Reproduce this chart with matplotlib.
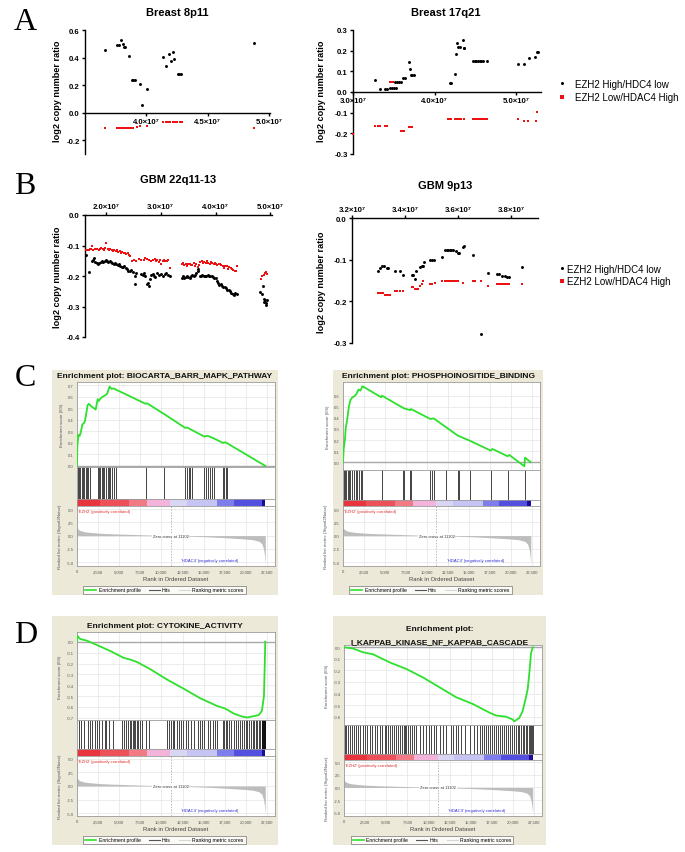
import matplotlib
matplotlib.use("Agg")
import matplotlib.pyplot as plt
from matplotlib.lines import Line2D
from matplotlib.patches import Rectangle
from matplotlib.ticker import FuncFormatter

plt.rcParams['font.family'] = ['Liberation Sans', 'DejaVu Sans']

# ---------------- data: copy-number panels (positions in bp) ----------------
br8_black_x = [3.666e7, 3.764e7, 3.780e7, 3.796e7, 3.807e7, 3.818e7, 3.829e7, 3.861e7, 3.880e7, 3.894e7,
               3.905e7, 3.948e7, 3.967e7, 4.005e7, 4.139e7, 4.158e7, 4.185e7, 4.204e7, 4.217e7, 4.228e7,
               4.258e7, 4.269e7, 4.283e7, 4.880e7]
br8_black_y = [0.455, 0.494, 0.494, 0.525, 0.501, 0.475, 0.475, 0.412, 0.235, 0.235,
               0.235, 0.208, 0.053, 0.174, 0.402, 0.341, 0.424, 0.373, 0.443, 0.387,
               0.278, 0.278, 0.278, 0.504]
br8_red_x = [3.666e7, 3.764e7, 3.780e7, 3.796e7, 3.813e7, 3.829e7, 3.845e7, 3.861e7, 3.878e7, 3.894e7,
             3.921e7, 3.948e7, 4.005e7, 4.139e7, 4.158e7, 4.177e7, 4.196e7, 4.215e7, 4.234e7, 4.253e7,
             4.272e7, 4.288e7, 4.880e7]
br8_red_y = [-0.109, -0.109, -0.109, -0.109, -0.109, -0.109, -0.109, -0.109, -0.109, -0.109,
             -0.104, -0.099, -0.099, -0.065, -0.065, -0.065, -0.065, -0.065, -0.065, -0.065,
             -0.065, -0.065, -0.109]

br17_black_x = [3.273e7, 3.327e7, 3.388e7, 3.416e7, 3.449e7, 3.473e7, 3.498e7, 3.522e7, 3.514e7, 3.539e7,
                3.563e7, 3.584e7, 3.612e7, 3.633e7, 3.686e7, 3.702e7, 3.710e7, 3.727e7, 3.743e7, 4.184e7,
                4.200e7, 4.249e7, 4.265e7, 4.278e7, 4.286e7, 4.306e7, 4.347e7, 4.355e7, 4.363e7, 4.469e7,
                4.490e7, 4.510e7, 4.531e7, 4.551e7, 4.571e7, 4.592e7, 4.637e7, 5.020e7, 5.094e7, 5.151e7,
                5.229e7, 5.249e7, 5.269e7]
br17_black_y = [0.058, 0.016, 0.016, 0.016, 0.019, 0.019, 0.019, 0.019, 0.048, 0.048,
                0.048, 0.048, 0.068, 0.068, 0.145, 0.113, 0.084, 0.084, 0.084, 0.042,
                0.042, 0.087, 0.185, 0.237, 0.218, 0.218, 0.252, 0.215, 0.215, 0.152,
                0.152, 0.152, 0.152, 0.152, 0.152, 0.152, 0.150, 0.137, 0.137, 0.166,
                0.169, 0.195, 0.195]
br17_red_x = [3.000e7, 3.273e7, 3.306e7, 3.327e7, 3.388e7, 3.416e7, 3.449e7, 3.469e7, 3.490e7, 3.584e7,
              3.604e7, 3.624e7, 3.686e7, 3.706e7, 3.727e7, 4.159e7, 4.184e7, 4.200e7, 4.249e7, 4.273e7,
              4.298e7, 4.322e7, 4.355e7, 4.469e7, 4.490e7, 4.510e7, 4.531e7, 4.551e7, 4.571e7, 4.592e7,
              4.616e7, 4.637e7, 5.020e7, 5.094e7, 5.143e7, 5.233e7, 5.257e7]
br17_red_y = [-0.202, -0.165, -0.165, -0.165, -0.165, -0.165, 0.048, 0.048, 0.048, -0.189,
              -0.189, -0.189, -0.168, -0.168, -0.168, -0.129, -0.129, -0.129, -0.129, -0.129,
              -0.129, -0.129, -0.129, -0.129, -0.129, -0.129, -0.129, -0.129, -0.129, -0.129,
              -0.129, -0.129, -0.129, -0.140, -0.140, -0.140, -0.095]

gbm22_red_x = [1.639, 1.663, 1.687, 1.711, 1.735, 1.747, 1.771, 1.795, 1.819, 1.843, 1.867, 1.892, 1.916,
               1.940, 1.964, 1.988, 2.012, 2.036, 2.060, 2.084, 2.108, 2.133, 2.157, 2.181, 2.205, 2.229,
               2.253, 2.277, 2.301, 2.325, 2.349, 2.373, 2.398, 2.422, 2.446, 2.482, 2.512, 2.554, 2.602,
               2.645, 2.687, 2.723, 2.759, 2.795, 2.831, 2.867, 2.892, 2.916, 2.940, 2.964, 2.988, 3.012,
               3.036, 3.060, 3.084, 3.108, 3.133, 3.169, 3.386, 3.410, 3.434, 3.458, 3.482, 3.506, 3.530,
               3.554, 3.578, 3.602, 3.627, 3.651, 3.675, 3.699, 3.723, 3.747, 3.771, 3.795, 3.819, 3.843,
               3.867, 3.892, 3.916, 3.940, 3.964, 3.988, 4.012, 4.036, 4.060, 4.084, 4.108, 4.133, 4.157,
               4.181, 4.205, 4.229, 4.253, 4.277, 4.301, 4.325, 4.349, 4.373, 4.386, 4.831, 4.855, 4.880,
               4.904, 4.928, 4.940]
gbm22_red_y = [-0.115, -0.116, -0.114, -0.113, -0.112, -0.101, -0.115, -0.112, -0.110, -0.113, -0.116, -0.112,
               -0.109, -0.112, -0.115, -0.107, -0.092, -0.112, -0.115, -0.113, -0.116, -0.118, -0.114, -0.117,
               -0.115, -0.121, -0.118, -0.123, -0.120, -0.125, -0.123, -0.128, -0.125, -0.130, -0.136, -0.150,
               -0.147, -0.150, -0.145, -0.149, -0.147, -0.142, -0.145, -0.147, -0.150, -0.148, -0.145, -0.151,
               -0.148, -0.153, -0.149, -0.162, -0.152, -0.147, -0.150, -0.151, -0.149, -0.174, -0.161, -0.159,
               -0.164, -0.161, -0.166, -0.162, -0.160, -0.165, -0.163, -0.159, -0.166, -0.162, -0.170, -0.163,
               -0.155, -0.151, -0.158, -0.154, -0.159, -0.151, -0.157, -0.160, -0.153, -0.159, -0.162, -0.157,
               -0.161, -0.165, -0.162, -0.160, -0.163, -0.168, -0.173, -0.168, -0.166, -0.177, -0.172, -0.175,
               -0.177, -0.179, -0.184, -0.182, -0.166, -0.210, -0.201, -0.197, -0.190, -0.186, -0.193]
gbm22_black_x = [1.639, 1.699, 1.741, 1.759, 1.783, 1.807, 1.831, 1.855, 1.880, 1.904, 1.928, 1.952, 1.976,
                 2.000, 2.024, 2.048, 2.072, 2.096, 2.120, 2.145, 2.169, 2.193, 2.217, 2.241, 2.265, 2.289,
                 2.313, 2.337, 2.361, 2.386, 2.410, 2.434, 2.464, 2.494, 2.524, 2.530, 2.554, 2.645, 2.675,
                 2.699, 2.723, 2.747, 2.771, 2.783, 2.807, 2.831, 2.855, 2.880, 2.904, 2.928, 2.964, 3.000,
                 3.036, 3.072, 3.096, 3.133, 3.169, 3.386, 3.410, 3.434, 3.458, 3.482, 3.506, 3.530, 3.554,
                 3.578, 3.602, 3.627, 3.651, 3.675, 3.687, 3.711, 3.735, 3.759, 3.783, 3.807, 3.831, 3.855,
                 3.880, 3.904, 3.928, 3.952, 3.976, 4.000, 4.024, 4.048, 4.072, 4.096, 4.120, 4.145, 4.169,
                 4.193, 4.217, 4.241, 4.265, 4.289, 4.313, 4.337, 4.361, 4.386, 4.819, 4.843, 4.867, 4.880,
                 4.892, 4.904, 4.916, 4.928, 4.940]
gbm22_black_y = [-0.132, -0.188, -0.151, -0.147, -0.142, -0.153, -0.159, -0.162, -0.159, -0.154, -0.150, -0.155,
                 -0.152, -0.149, -0.151, -0.154, -0.151, -0.155, -0.159, -0.162, -0.158, -0.161, -0.164, -0.162,
                 -0.166, -0.170, -0.172, -0.168, -0.173, -0.177, -0.182, -0.184, -0.180, -0.188, -0.199, -0.226,
                 -0.190, -0.193, -0.197, -0.190, -0.201, -0.227, -0.223, -0.232, -0.210, -0.197, -0.193, -0.201,
                 -0.204, -0.190, -0.197, -0.192, -0.199, -0.195, -0.190, -0.197, -0.201, -0.205, -0.201, -0.208,
                 -0.203, -0.199, -0.204, -0.208, -0.201, -0.197, -0.201, -0.197, -0.190, -0.177, -0.184, -0.199,
                 -0.201, -0.197, -0.199, -0.201, -0.199, -0.197, -0.199, -0.201, -0.199, -0.203, -0.205, -0.208,
                 -0.215, -0.223, -0.229, -0.227, -0.232, -0.236, -0.237, -0.240, -0.245, -0.247, -0.249, -0.255,
                 -0.259, -0.262, -0.255, -0.260, -0.253, -0.259, -0.232, -0.277, -0.284, -0.280, -0.288, -0.295,
                 -0.280]

gbm9_black_x = [3.296, 3.305, 3.314, 3.320, 3.330, 3.337, 3.362, 3.379, 3.391, 3.425, 3.430, 3.436, 3.440,
                3.455, 3.462, 3.466, 3.470, 3.495, 3.502, 3.510, 3.540, 3.550, 3.556, 3.562, 3.568, 3.574,
                3.580, 3.590, 3.599, 3.604, 3.616, 3.621, 3.657, 3.684, 3.712, 3.746, 3.754, 3.765, 3.775,
                3.784, 3.790, 3.841]
gbm9_black_y = [-0.128, -0.120, -0.115, -0.115, -0.120, -0.120, -0.126, -0.126, -0.136, -0.136, -0.136, -0.146,
                -0.128, -0.118, -0.114, -0.114, -0.106, -0.100, -0.100, -0.100, -0.094, -0.076, -0.076, -0.076,
                -0.076, -0.076, -0.076, -0.078, -0.083, -0.083, -0.070, -0.067, -0.088, -0.278, -0.133, -0.134,
                -0.134, -0.138, -0.139, -0.142, -0.142, -0.118]
gbm9_red_x = [3.296, 3.302, 3.309, 3.315, 3.324, 3.330, 3.336, 3.342, 3.362, 3.369, 3.381, 3.391, 3.425,
              3.430, 3.436, 3.444, 3.450, 3.456, 3.462, 3.469, 3.495, 3.500, 3.511, 3.540, 3.549, 3.556,
              3.564, 3.571, 3.579, 3.586, 3.594, 3.600, 3.619, 3.654, 3.664, 3.684, 3.712, 3.746, 3.754,
              3.761, 3.769, 3.776, 3.784, 3.790, 3.841]
gbm9_red_y = [-0.179, -0.179, -0.179, -0.179, -0.184, -0.184, -0.184, -0.184, -0.174, -0.174, -0.174, -0.174,
              -0.166, -0.166, -0.170, -0.170, -0.170, -0.163, -0.158, -0.150, -0.158, -0.158, -0.155, -0.152,
              -0.152, -0.152, -0.152, -0.152, -0.152, -0.152, -0.152, -0.152, -0.157, -0.152, -0.152, -0.152,
              -0.162, -0.159, -0.159, -0.159, -0.159, -0.159, -0.159, -0.159, -0.158]
gbm22_red_x = [v * 1e7 for v in gbm22_red_x]
gbm22_black_x = [v * 1e7 for v in gbm22_black_x]
gbm9_black_x = [v * 1e7 for v in gbm9_black_x]
gbm9_red_x = [v * 1e7 for v in gbm9_red_x]

legend_labels = ["EZH2 High/HDC4 low", "EZH2 Low/HDAC4 High"]

# ---------------- data: GSEA panels ----------------
gsea_titles = ["Enrichment plot: BIOCARTA_BARR_MAPK_PATHWAY", "Enrichment plot: PHOSPHOINOSITIDE_BINDING",
               "Enrichment plot: CYTOKINE_ACTIVITY", "Enrichment plot:\nI_KAPPAB_KINASE_NF_KAPPAB_CASCADE"]

esC1_x = [0, 39, 158, 316, 474, 632, 790, 947, 1105, 1263, 1421, 1658, 2211, 2447, 2605, 2763, 3000, 3237,
          3553, 3868, 4105, 4342, 4579, 8132, 8289, 10342, 12829, 13026, 13658, 15079, 15474, 16184, 17289,
          17605, 17763, 22303]
esC1_y = [0.0, 0.17, 0.27, 0.26, 0.30, 0.36, 0.37, 0.39, 0.46, 0.53, 0.54, 0.52, 0.49, 0.58, 0.565, 0.585,
          0.60, 0.61, 0.625, 0.69, 0.67, 0.675, 0.665, 0.54, 0.545, 0.45, 0.33, 0.335, 0.31, 0.255, 0.262,
          0.24, 0.20, 0.205, 0.198, 0.0]
hitsC1 = [79, 237, 395, 553, 711, 868, 1026, 1184, 1342, 1500, 2447, 2605, 2763, 2921, 3079, 3237, 3474,
          3632, 3789, 3947, 4184, 4421, 4579, 8132, 10342, 12829, 13026, 13224, 13421, 13658, 15079, 15276,
          15474, 15711, 15947, 16184, 17289, 17447, 17605, 17763]

esC2_x = [0, 80, 239, 319, 478, 638, 718, 878, 1117, 1356, 1596, 1835, 2074, 2314, 4548, 4628, 7021, 7261,
          7979, 8059, 10372, 10771, 13643, 15039, 17553, 17753, 19548, 19748, 21543, 21622, 22300]
esC2_y = [0.0, 0.12, 0.21, 0.306, 0.375, 0.465, 0.51, 0.56, 0.585, 0.595, 0.615, 0.655, 0.645, 0.685, 0.585,
          0.60, 0.495, 0.485, 0.47, 0.48, 0.39, 0.395, 0.24, 0.195, 0.105, 0.12, 0.054, 0.066, -0.036, 0.042, 0.0]
hitsC2 = [80, 239, 399, 559, 718, 878, 1117, 1356, 1516, 1676, 1915, 2154, 2314, 4628, 7101, 7261, 7979,
          8059, 10372, 10532, 10771, 12287, 13644, 13723, 15080, 17633, 19628, 21622]

esD1_x = [0, 40, 395, 1184, 2368, 3947, 5526, 6316, 7105, 8684, 10658, 12632, 14605, 16579, 17566, 18553,
          19539, 20132, 20921, 21513, 21908, 22150, 22250, 22303]
esD1_y = [0.0, 0.055, 0.025, 0.01, -0.03, -0.085, -0.148, -0.164, -0.186, -0.252, -0.347, -0.432, -0.52,
          -0.59, -0.615, -0.66, -0.688, -0.697, -0.685, -0.675, -0.637, -0.50, -0.20, 0.0]
hitsD1 = [197, 434, 789, 1263, 1500, 1776, 2092, 2368, 2605, 2921, 3276, 3474, 3789, 4303, 5329, 5566, 5803,
          6039, 6237, 6434, 6592, 6750, 6868, 7066, 7263, 7500, 7737, 8171, 8566, 10658, 10855, 11132, 11368,
          11526, 11842, 12079, 12355, 12553, 12868, 13145, 13500, 13816, 14289, 14526, 14803, 15079, 15553,
          15789, 16066, 16382, 16579, 17289, 17447, 17684, 17720, 18000, 18276, 18553, 18789, 19026, 19263,
          19539, 19737, 19974, 20171, 20368, 20605, 20803, 21000, 21158, 21316, 21513, 21711, 21868, 21900,
          21950, 21987, 22000, 22050, 22105, 22150, 22200, 22224, 22250, 22303]

esD2_x = [0, 1062, 2242, 3422, 5388, 7355, 9321, 11288, 13254, 15221, 17187, 17974, 19154, 19940, 20137,
          20727, 21121, 21317, 21514, 21711, 21907, 22104, 22300]
esD2_y = [0.0, -0.01, -0.043, -0.06, -0.13, -0.187, -0.26, -0.346, -0.432, -0.49, -0.565, -0.59, -0.60,
          -0.625, -0.64, -0.61, -0.55, -0.49, -0.43, -0.36, -0.22, -0.05, 0.0]
hitsD2 = [79, 236, 472, 669, 944, 1141, 1455, 1652, 1927, 2242, 2438, 2714, 3028, 3304, 3618, 3894, 4208,
          4484, 4798, 4995, 5192, 5388, 5624, 5860, 6096, 6332, 6568, 6804, 7040, 7197, 7355, 7551, 7748,
          7984, 8220, 8535, 8928, 9321, 9715, 10029, 10304, 10580, 10894, 11288, 11681, 12074, 12664, 12940,
          13254, 13490, 13844, 14355, 14906, 15417, 15771, 16086, 16322, 16558, 16794, 17030, 17266, 17502,
          17738, 17974, 18210, 18446, 18682, 18918, 19154, 19390, 19626, 19862, 20137, 20334, 20530, 20727,
          20924, 21121, 21317, 21514, 21671, 21829, 21986, 22104, 22222, 22300]

rank_x = [0, 80, 300, 790, 1500, 2763, 4000, 6000, 8000, 9500, 11102, 13000, 15000, 17000, 18553, 20000,
          20921, 21600, 21908, 22100, 22200, 22303]
rank_y = [1.6, 1.3, 1.0, 0.75, 0.6, 0.44, 0.35, 0.25, 0.15, 0.07, 0.0, -0.1, -0.2, -0.35, -0.5, -0.65,
          -0.8, -1.1, -1.56, -2.5, -3.5, -5.2]
zero_cross = 11102

bar_edges = [0, 2763, 6118, 8289, 11053, 13026, 16579, 18553, 21908, 22303]
bar_colors = ['#E8353D', '#EC5058', '#F27A84', '#F4B3DA', '#D8D6F3', '#C6C4F2', '#7F7DEC', '#5350E0', '#1E0C98']

rank_ticks = [0, 2500, 5000, 7500, 10000, 12500, 15000, 17500, 20000, 22500]
rank_tick_labels = ["0", "2,500", "5,000", "7,500", "10,000", "12,500", "15,000", "17,500", "20,000", "22,500"]
metric_ticks = [5.0, 2.5, 0.0, -2.5, -5.0]

# ---------------- figure ----------------
W, H = 685, 853
fig = plt.figure(figsize=(W / 100, H / 100), dpi=100)


def ax_px(x0, y0, x1, y1):
    return fig.add_axes([x0 / W, 1 - y1 / H, (x1 - x0) / W, (y1 - y0) / H])


def sci7(v, pos):
    return f"{v / 1e7:.1f}×10⁷"


def cn_panel(box, xlim, ylim, xticks, yticks, bx, by, rx, ry, title, title_xy, ylab_xy, top_axis):
    ax = ax_px(*box)
    ax.set_xlim(xlim)
    ax.set_ylim(ylim)
    ax.scatter(bx, by, s=4.5, c='black', marker='o', linewidths=0, zorder=3, clip_on=False)
    ax.scatter(rx, ry, s=4.5, c='#EE1111', marker='s', linewidths=0, zorder=3, clip_on=False)
    ax.spines['right'].set_visible(False)
    if top_axis:
        ax.spines['bottom'].set_visible(False)
        ax.xaxis.tick_top()
    else:
        ax.spines['top'].set_visible(False)
        ax.spines['bottom'].set_position(('data', 0))
    for s in ax.spines.values():
        s.set_linewidth(1.0)
    ax.set_xticks(xticks)
    ax.xaxis.set_major_formatter(FuncFormatter(sci7))
    ax.set_yticks(yticks)
    ax.set_yticklabels([f"{t:.1f}" for t in yticks])
    ax.tick_params(axis='both', length=2.5, width=1.0, pad=1.2, labelsize=5.6)
    for lab in ax.get_xticklabels() + ax.get_yticklabels():
        lab.set_fontweight('bold')
    ax.patch.set_alpha(0)
    fig.text(title_xy[0] / W, 1 - title_xy[1] / H, title, ha='center', va='center',
             fontsize=8, fontweight='bold')
    fig.text(ylab_xy[0] / W, 1 - ylab_xy[1] / H, "log2 copy number ratio", ha='center', va='center',
             rotation=90, fontsize=6.6, fontweight='bold')
    return ax


def cn_legend(ax, left_x, mid_y, textpad, spacing):
    handles = [Line2D([], [], marker='o', color='black', ls='', ms=2.2, mew=0),
               Line2D([], [], marker='s', color='#EE1111', ls='', ms=2.2, mew=0)]
    ax.legend(handles, legend_labels, loc='center left', bbox_to_anchor=(left_x / W, 1 - mid_y / H),
              bbox_transform=fig.transFigure, frameon=False, fontsize=7, handlelength=0.6,
              handletextpad=textpad, labelspacing=spacing, borderpad=0, borderaxespad=0)


axA1 = cn_panel((85, 31, 270, 155), (3.5e7, 5.01e7), (-0.3, 0.6), [4.0e7, 4.5e7, 5.0e7],
                [-0.2, 0.0, 0.2, 0.4, 0.6], br8_black_x, br8_black_y, br8_red_x, br8_red_y,
                "Breast 8p11", (177, 13), (57, 91), False)
axA2 = cn_panel((353, 31, 541, 155), (3.0e7, 5.3e7), (-0.3, 0.3), [3.0e7, 4.0e7, 5.0e7],
                [-0.3, -0.2, -0.1, 0.0, 0.1, 0.2, 0.3], br17_black_x, br17_black_y, br17_red_x, br17_red_y,
                "Breast 17q21", (446, 13), (321, 91), False)
cn_legend(axA2, 558.8, 91.5, 1.05, 0.4)
axB1 = cn_panel((85, 216, 272, 338), (1.62e7, 5.03e7), (-0.4, 0.0), [2.0e7, 3.0e7, 4.0e7, 5.0e7],
                [-0.4, -0.3, -0.2, -0.1, 0.0], gbm22_black_x, gbm22_black_y, gbm22_red_x, gbm22_red_y,
                "GBM 22q11-13", (178, 180), (57, 277), True)
axB2 = cn_panel((352, 219, 538, 344), (3.2e7, 3.9e7), (-0.3, 0.0), [3.2e7, 3.4e7, 3.6e7, 3.8e7],
                [-0.3, -0.2, -0.1, 0.0], gbm9_black_x, gbm9_black_y, gbm9_red_x, gbm9_red_y,
                "GBM 9p13", (445, 186), (321, 282), True)
cn_legend(axB2, 558.8, 276, 0.25, 0.3)

# panel letters
for letter, (lx, ly) in zip("ABCD", [(25, 22), (25, 187), (25, 379), (26, 636)]):
    fig.text(lx / W, 1 - ly / H, letter, ha='center', va='center', fontsize=23,
             family=['Liberation Serif', 'DejaVu Serif'])

BEIGE = '#ECE9D8'
GREEN = '#2EE02E'
XMAX = 23400


def gray_spines(ax):
    for s in ax.spines.values():
        s.set_color('#9A9A9A')
        s.set_linewidth(0.6)


def gsea(box, title, title_y, es_box, hits_box, bar_box, rank_box, leg_xy, xlab_y, es_x, es_y,
         es_ylim, es_ticks, hits, rank_ylim):
    x0, y0, x1, y1 = box
    fig.add_artist(Rectangle((x0 / W, 1 - y1 / H), (x1 - x0) / W, (y1 - y0) / H, transform=fig.transFigure,
                             facecolor=BEIGE, edgecolor='none', zorder=-10))
    lines = title.split("\n")
    for i, t in enumerate(lines):
        fig.text((x0 + x1) / 2 / W, 1 - (title_y + 13 * i) / H, t, ha='center', va='center',
                 fontsize=6.0, fontweight='bold', color='#111111')
    # enrichment score
    ax = ax_px(*es_box)
    ax.plot(es_x, es_y, color=GREEN, lw=1.3, zorder=3)
    ax.axhline(0, color='#A8A8A8', lw=1.0, zorder=2)
    ax.set_xlim(0, XMAX)
    ax.set_ylim(es_ylim)
    ax.set_yticks(es_ticks)
    ax.set_yticklabels([f"{t:.1f}" for t in es_ticks])
    ax.set_xticks(rank_ticks)
    ax.tick_params(labelbottom=False, length=0, labelsize=3, pad=2.5, labelcolor='#555555')
    ax.grid(color='#E4E4E4', lw=0.5)
    gray_spines(ax)
    ax.set_ylabel("Enrichment score (ES)", fontsize=3.2, color='#555555', labelpad=3)
    # hits
    axh = ax_px(*hits_box)
    axh.vlines(hits, 0, 1, color='#111111', lw=0.55)
    axh.set_xlim(0, XMAX)
    axh.set_ylim(0, 1)
    axh.set_xticks([])
    axh.set_yticks([])
    gray_spines(axh)
    # colour bar
    axb = ax_px(*bar_box)
    for e0, e1, c in zip(bar_edges[:-1], bar_edges[1:], bar_colors):
        axb.axvspan(e0, e1, color=c, lw=0)
    axb.set_xlim(0, XMAX)
    axb.set_ylim(0, 1)
    axb.set_xticks([])
    axb.set_yticks([])
    gray_spines(axb)
    # ranked list metric
    axr = ax_px(*rank_box)
    axr.fill_between(rank_x, rank_y, 0, color='#BDBDBD', lw=0, zorder=2)
    axr.axvline(zero_cross, color='#999999', lw=0.5, ls=(0, (2, 2)), zorder=1)
    axr.set_xlim(0, XMAX)
    axr.set_ylim(rank_ylim)
    axr.set_xticks(rank_ticks)
    axr.set_xticklabels(rank_tick_labels)
    axr.set_yticks(metric_ticks)
    axr.set_yticklabels([f"{t:.1f}" for t in metric_ticks])
    axr.tick_params(length=0, labelsize=3, pad=2.5, labelcolor='#555555')
    axr.grid(color='#E4E4E4', lw=0.5)
    gray_spines(axr)
    axr.set_xlabel("Rank in Ordered Dataset", fontsize=4.2, color='#444444', labelpad=2)
    axr.set_ylabel("Ranked list metric (Signal2Noise)", fontsize=3.2, color='#555555', labelpad=3)
    axr.text(zero_cross, 0, f"Zero cross at {zero_cross}", ha='center', va='center', fontsize=3,
             color='#333333', zorder=4, bbox=dict(facecolor='white', edgecolor='none', pad=0.6))
    axr.text(80, rank_ylim[1] - 0.9, "'EZH2' (positively correlated)", ha='left', va='center',
             fontsize=3, color='#E02A2A', zorder=4)
    axr.text(15700, rank_ylim[0] + 1.1, "'HDAC4' (negatively correlated)", ha='center', va='center',
             fontsize=3, color='#2A2AD8', zorder=4)
    handles = [Line2D([], [], color=GREEN, lw=1.2), Line2D([], [], color='#555555', lw=0.8),
               Line2D([], [], color='#D6D6D6', lw=0.8)]
    leg = axr.legend(handles, ["Enrichment profile", "Hits", "Ranking metric scores"], loc='center',
                     bbox_to_anchor=(leg_xy[0] / W, 1 - leg_xy[1] / H), bbox_transform=fig.transFigure,
                     ncol=3, fontsize=3.7, frameon=True, fancybox=False, edgecolor='#707070',
                     borderpad=0.35, handlelength=2.2, handletextpad=0.4, columnspacing=1.6)
    leg.get_frame().set_linewidth(0.6)
    axr.set_xlabel("Rank in Ordered Dataset", fontsize=4.2, color='#444444', labelpad=2)


gsea((52, 371, 278, 596), gsea_titles[0], 376, (77, 383, 274.5, 468), (77, 468, 274.5, 500),
     (77, 500, 274.5, 507), (77, 507, 274.5, 567), (164.5, 591), 578, esC1_x, esC1_y,
     (-0.01, 0.73), [0.0, 0.1, 0.2, 0.3, 0.4, 0.5, 0.6, 0.7], hitsC1, (-5.75, 5.6))
gsea((333, 371, 543, 596), gsea_titles[1], 376, (343, 383, 540, 470.7), (343, 470.7, 540, 500.7),
     (343, 500.7, 540, 507), (343, 507, 540, 567), (430.5, 591), 578, esC2_x, esC2_y,
     (-0.067, 0.723), [0.0, 0.1, 0.2, 0.3, 0.4, 0.5, 0.6], hitsC2, (-5.75, 5.6))
gsea((52, 617, 278, 846), gsea_titles[2], 627, (77, 633, 274.5, 721), (77, 721, 274.5, 750),
     (77, 750, 274.5, 757), (77, 757, 274.5, 817), (164.5, 841), 829, esD1_x, esD1_y,
     (-0.72, 0.09), [0.0, -0.1, -0.2, -0.3, -0.4, -0.5, -0.6, -0.7], hitsD1, (-5.55, 5.55))
gsea((333, 617, 546, 846), gsea_titles[3], 630, (344, 646, 542, 726), (344, 726, 542, 755),
     (344, 755, 542, 761), (344, 761, 542, 817), (432, 841), 829, esD2_x, esD2_y,
     (-0.672, 0.02), [0.0, -0.1, -0.2, -0.3, -0.4, -0.5, -0.6], hitsD2, (-5.6, 5.4))

fig.savefig("out.png", dpi=100, facecolor='white')
